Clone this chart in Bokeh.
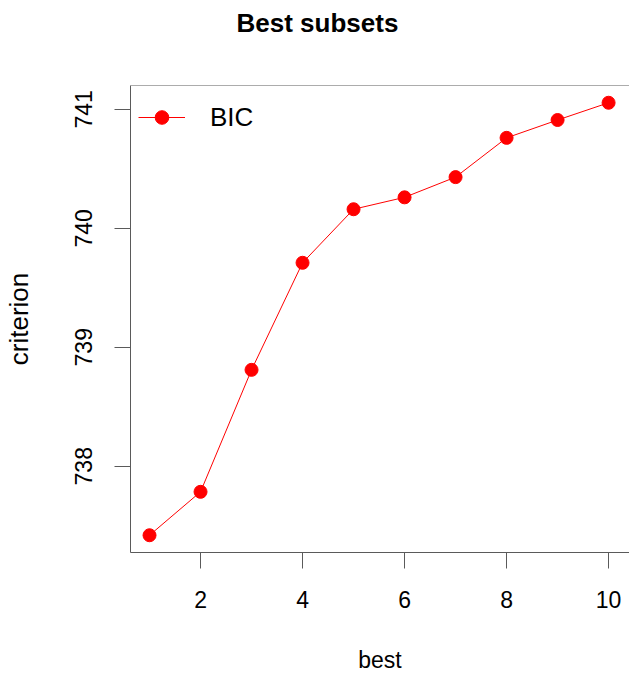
from bokeh.plotting import figure
from bokeh.models import Range1d, FixedTicker, Span, Title, Legend, LegendItem
from bokeh.embed import file_html
from bokeh.resources import INLINE

best = [1, 2, 3, 4, 5, 6, 7, 8, 9, 10]
bic = [737.42, 737.785, 738.81, 739.71, 740.16, 740.26, 740.43, 740.76, 740.91, 741.055]
x_ticks = [2, 4, 6, 8, 10]
y_ticks = [738, 739, 740, 741]

FONT = "Liberation Sans"
AXC = "#5a5a5a"

p = figure(width=629, height=676, output_backend="svg", toolbar_location=None,
           x_range=Range1d(0.627, 10.41), y_range=Range1d(737.275, 741.2),
           min_border_left=130, min_border_right=0, min_border_top=84, min_border_bottom=124)
p.title = None
p.outline_line_color = None
p.grid.visible = False
p.background_fill_color = "white"
p.border_fill_color = "white"

r_line = p.line(best, bic, line_color="red", line_width=1)
r_pts = p.scatter(best, bic, size=13, fill_color="red", line_color="red")

p.add_layout(Span(location=741.2, dimension="width", line_color=AXC, line_width=1))

for ax in (p.xaxis[0], p.yaxis[0]):
    ax.axis_line_color = AXC
    ax.major_tick_line_color = AXC
    ax.minor_tick_line_color = None
    ax.major_tick_in = 0
    ax.major_tick_out = 16
    ax.major_label_text_font = FONT
    ax.major_label_text_font_size = "23px"
    ax.major_label_text_color = "black"
    ax.axis_label_text_font = FONT
    ax.axis_label_text_font_style = "normal"
    ax.axis_label_text_color = "black"

p.xaxis.ticker = FixedTicker(ticks=x_ticks)
p.yaxis.ticker = FixedTicker(ticks=y_ticks)
p.xaxis.axis_label = "best"
p.yaxis.axis_label = "criterion"
p.xaxis.axis_label_text_font_size = "23px"
p.yaxis.axis_label_text_font_size = "26px"
p.xaxis.major_label_standoff = 22
p.xaxis.axis_label_standoff = 36
p.yaxis.major_label_orientation = "vertical"
p.yaxis.major_label_standoff = 22
p.yaxis.axis_label_standoff = 39

legend = Legend(items=[LegendItem(label="BIC", renderers=[r_line, r_pts])],
                location=(8, 418), margin=0, padding=8,
                glyph_width=47, glyph_height=34, label_height=34, label_standoff=25,
                label_text_font=FONT, label_text_font_size="26px", label_text_color="black",
                border_line_color=None, background_fill_alpha=0)
p.add_layout(legend)

# spacer between frame and title (closest to the frame)
spacer = Title(text=" ", text_font_size="1px", standoff=40)
p.add_layout(spacer, "above")
title = Title(text="Best subsets", text_font=FONT, text_font_size="26px", text_color="black",
              text_font_style="bold", align="left", offset=106, standoff=10)
p.add_layout(title, "above")

open("out.html", "w").write(file_html(p, INLINE))
